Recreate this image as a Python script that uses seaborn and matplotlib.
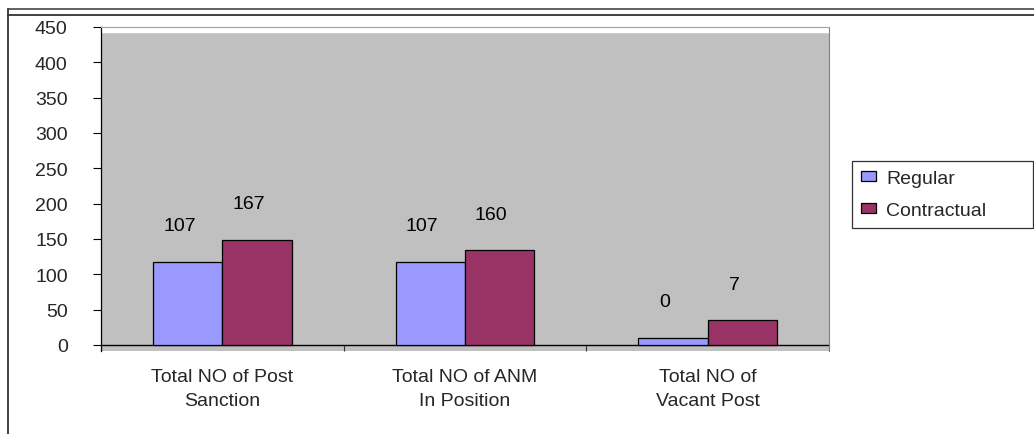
import matplotlib
matplotlib.use("Agg")
import matplotlib.pyplot as plt
from matplotlib.lines import Line2D
import seaborn as sns
import pandas as pd

# chart values
categories = ["Total NO of Post\nSanction", "Total NO of ANM\nIn Position", "Total NO of\nVacant Post"]
series = ["Regular", "Contractual"]
regular_bars = [118, 118, 10]
contractual_bars = [149, 134, 35]
regular_labels = ["107", "107", "0"]
contractual_labels = ["167", "160", "7"]
y_ticks = [0, 50, 100, 150, 200, 250, 300, 350, 400, 450]

colors = {"Regular": "#9999FF", "Contractual": "#993366"}

df = pd.DataFrame({
    "category": categories * 2,
    "series": ["Regular"] * 3 + ["Contractual"] * 3,
    "value": regular_bars + contractual_bars,
})

sns.set_style("white")
plt.rcParams['font.family'] = ['Liberation Sans', 'DejaVu Sans']
FS = 14

fig = plt.figure(figsize=(10.34, 4.35), dpi=100)
ax = fig.add_axes([101 / 1034, 83 / 435, 728 / 1034, 324 / 435])
ax.set_facecolor("#C0C0C0")

sns.barplot(data=df, x="category", y="value", hue="series", order=categories,
            hue_order=series, palette=colors, width=0.571, edgecolor="black",
            linewidth=0.9, saturation=1, ax=ax, legend=True, zorder=3)

ax.set_xlim(-0.5, 2.5)
ax.set_ylim(-8.5, 450)
ax.axhspan(443, 450, color="white", zorder=1)
ax.axhline(0, color="black", lw=1, zorder=2)

# data labels above bars
for cont, labs in zip(ax.containers, [regular_labels, contractual_labels]):
    for bar, lab in zip(cont, labs):
        ax.annotate(lab, (bar.get_x() + bar.get_width() / 2, bar.get_height()),
                    xytext=(-6, 26), textcoords="offset points",
                    ha="center", va="center", fontsize=FS, color="black", zorder=4)

ax.set_yticks(y_ticks)
ax.set_xticks([0, 1, 2])
ax.set_xticks([-0.5, 0.5, 1.5, 2.5], minor=True)
ax.set_xlabel("")
ax.set_ylabel("")
ax.tick_params(axis="y", direction="out", length=6, width=0.8, color="black",
               pad=18, labelsize=FS, left=True)
ax.tick_params(axis="x", which="major", length=0, pad=12, labelsize=FS)
ax.tick_params(axis="x", which="minor", direction="in", length=4.3, width=0.8,
               color="#333333", bottom=True)
for lab in ax.get_xticklabels():
    lab.set_linespacing(1.6)

ax.spines["left"].set_color("black")
ax.spines["left"].set_linewidth(0.9)
ax.spines["bottom"].set_visible(False)
ax.spines["top"].set_color("#A0A0A0")
ax.spines["right"].set_color("#808080")

leg = ax.legend(loc="upper left",
                bbox_to_anchor=(852 / 1034, 1 - 227 / 435, 181 / 1034, 65 / 435),
                bbox_transform=fig.transFigure, mode="expand", frameon=True,
                fancybox=False, edgecolor="black", fontsize=FS, handlelength=0.8,
                handleheight=0.4, handletextpad=0.5, borderpad=0.45,
                labelspacing=0.8, borderaxespad=0)
leg.get_frame().set_linewidth(0.9)
leg.get_frame().set_facecolor("white")

# outer frame lines
fig.add_artist(Line2D([8 / 1034, 1], [1 - 10 / 435, 1 - 10 / 435], color="#555555", lw=1.3))
fig.add_artist(Line2D([8 / 1034, 1], [1 - 16 / 435, 1 - 16 / 435], color="#333333", lw=1.3))
fig.add_artist(Line2D([8 / 1034, 8 / 1034], [0, 1 - 10 / 435], color="#333333", lw=1.3))

fig.savefig("out.png", dpi=100)
